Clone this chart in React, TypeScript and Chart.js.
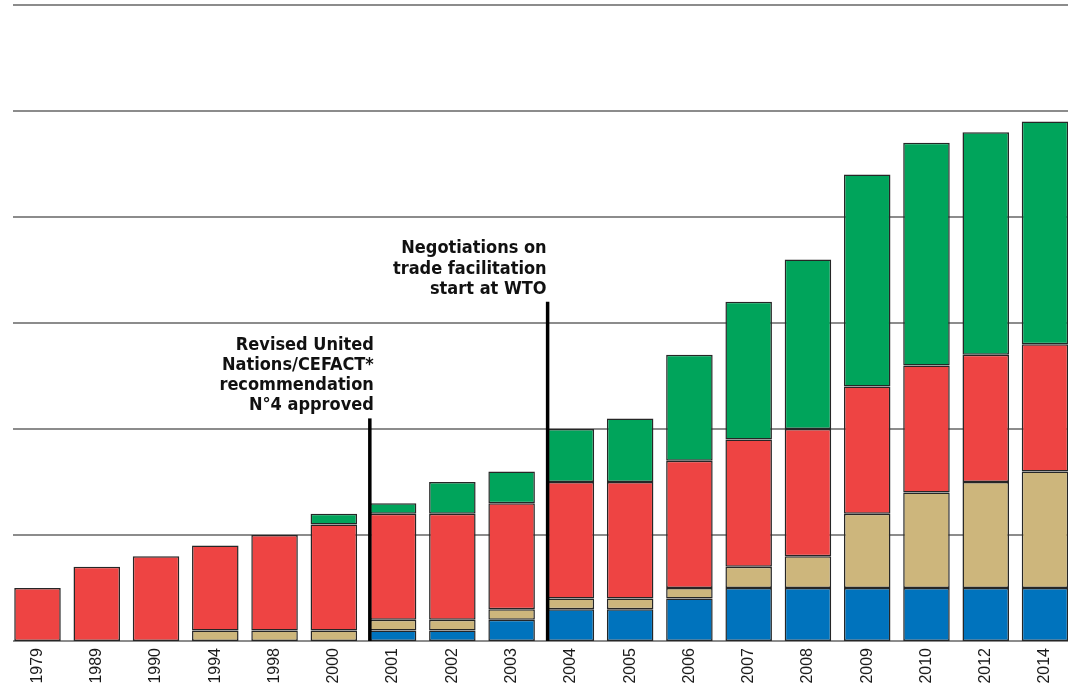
import React, { useEffect, useRef } from "react";
import { Chart, registerables } from "chart.js";

Chart.register(...registerables);

const categories = ["1979", "1989", "1990", "1994", "1998", "2000", "2001", "2002", "2003", "2004", "2005", "2006", "2007", "2008", "2009", "2010", "2012", "2014"];
const blueValues = [0, 0, 0, 0, 0, 0, 1, 1, 2, 3, 3, 4, 5, 5, 5, 5, 5, 5];
const tanValues = [0, 0, 0, 1, 1, 1, 1, 1, 1, 1, 1, 1, 2, 3, 7, 9, 10, 11];
const redValues = [5, 7, 8, 8, 9, 10, 10, 10, 10, 11, 11, 12, 12, 12, 12, 12, 12, 12];
const greenValues = [0, 0, 0, 0, 0, 1, 1, 3, 3, 5, 6, 10, 13, 16, 20, 21, 21, 21];

const yTicks = [0, 10, 20, 30, 40, 50, 60];

const annotationIndex = [6, 9];
const annotationTop = [21, 32];
const annotationLines = [
  ["Revised United", "Nations/CEFACT*", "recommendation", "N°4 approved"],
  ["Negotiations on", "trade facilitation", "start at WTO"],
];
const annotationTextDx = [4, -1];

const nz = (arr: number[]) => arr.map((v) => (v === 0 ? null : v));

const gridPlugin = {
  id: "fullGrid",
  beforeDatasetsDraw(chart: any) {
    const { ctx } = chart;
    const y = chart.scales.y;
    ctx.save();
    ctx.strokeStyle = "#8c8c8c";
    ctx.lineWidth = 2;
    yTicks.forEach((t) => {
      const py = Math.round(y.getPixelForValue(t));
      ctx.beginPath();
      ctx.moveTo(13, py);
      ctx.lineTo(chart.width, py);
      ctx.stroke();
    });
    ctx.restore();
  },
};

const annotationPlugin = {
  id: "annotations",
  afterDatasetsDraw(chart: any) {
    const { ctx } = chart;
    const y = chart.scales.y;
    const meta = chart.getDatasetMeta(2);
    ctx.save();
    annotationIndex.forEach((idx, k) => {
      const bar = meta.data[idx];
      const px = bar.x - bar.width / 2;
      const top = y.getPixelForValue(annotationTop[k]);
      const base = y.getPixelForValue(0);
      ctx.strokeStyle = "#000";
      ctx.lineWidth = 3.5;
      ctx.beginPath();
      ctx.moveTo(px, top);
      ctx.lineTo(px, base);
      ctx.stroke();

      ctx.fillStyle = "#111";
      ctx.font = "bold 18px 'Liberation Sans Narrow', 'DejaVu Sans Condensed', 'Liberation Sans', sans-serif";
      ctx.textAlign = "right";
      ctx.textBaseline = "alphabetic";
      const lines = annotationLines[k];
      const n = lines.length;
      lines.forEach((ln, i) => {
        const by = top - 8 - (n - 1 - i) * 20.3;
        ctx.fillText(ln, px + annotationTextDx[k], by);
      });
    });
    ctx.restore();
  },
};

export default function App() {
  const ref = useRef<HTMLCanvasElement | null>(null);
  useEffect(() => {
    if (!ref.current) return;
    const border = "#262626";
    const mk = (label: string, data: number[], color: string) => ({
      label,
      data: nz(data),
      backgroundColor: color,
      borderColor: border,
      borderWidth: 1.5,
      borderSkipped: false,
      categoryPercentage: 1,
      barPercentage: 0.785,
      clip: false,
    });
    const chart = new Chart(ref.current, {
      type: "bar",
      data: {
        labels: categories,
        datasets: [
          mk("Blue", blueValues, "#0073bd"),
          mk("Tan", tanValues, "#cdb67c"),
          mk("Red", redValues, "#ee4443"),
          mk("Green", greenValues, "#00a45b"),
        ],
      },
      options: {
        animation: false,
        responsive: false,
        maintainAspectRatio: false,
        layout: { padding: { top: 5, left: 37.5, right: 23, bottom: 0 } },
        plugins: { legend: { display: false }, tooltip: { enabled: false } },
        scales: {
          x: {
            stacked: true,
            offset: false,
            grid: { display: false, drawTicks: false },
            border: { display: false },
            ticks: {
              maxRotation: 90,
              minRotation: 90,
              autoSkip: false,
              padding: 7,
              color: "#1a1a1a",
              font: { family: "'Liberation Sans', Arial, sans-serif", size: 16 },
            },
            afterFit: (s: any) => {
              s.height = 46;
              s.paddingLeft = 0;
              s.paddingRight = 0;
            },
          },
          y: {
            stacked: true,
            display: false,
            min: 0,
            max: 60,
          },
        },
      },
      plugins: [gridPlugin, annotationPlugin],
    });
    return () => chart.destroy();
  }, []);
  return (
    <div style={{ position: "fixed", left: 0, top: 0, width: 1068, height: 687, background: "#fff" }}>
      <canvas ref={ref} width={1068} height={687} style={{ display: "block" }} />
    </div>
  );
}
